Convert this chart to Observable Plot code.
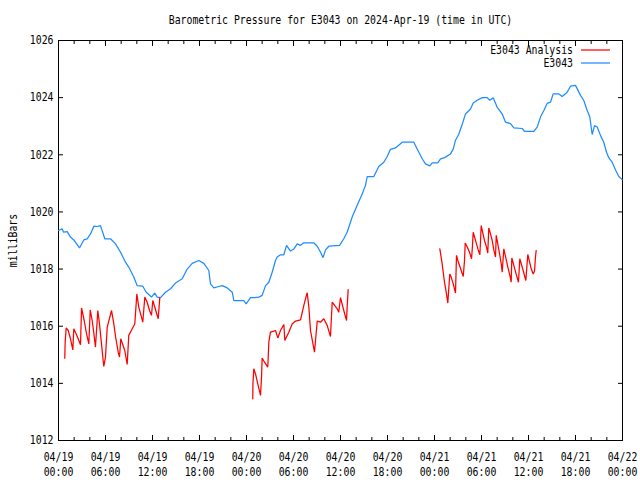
<!DOCTYPE html>
<html>
<head>
<meta charset="utf-8">
<script src="https://cdn.jsdelivr.net/npm/d3@7"></script>
<script src="https://cdn.jsdelivr.net/npm/@observablehq/plot@0.6"></script>
<style>
  html, body { margin: 0; padding: 0; background: #fff; }
  #chart { position: relative; width: 640px; height: 480px; }
</style>
</head>
<body>
<div id="chart"></div>
<script>
const titleText = "Barometric Pressure for E3043 on 2024-Apr-19 (time in UTC)";
const yLabel = "milliBars";
const seriesNames = ["E3043 Analysis", "E3043"];
const seriesColors = ["#ff0000", "#1e8cff"];
const startISO = "2024-04-19T00:00:00Z";
const endISO = "2024-04-22T00:00:00Z";
const yTicks = [1012, 1014, 1016, 1018, 1020, 1022, 1024, 1026];
const majorTickHours = [0, 6, 12, 18, 24, 30, 36, 42, 48, 54, 60, 66, 72];
const minorTickHours = [2, 4, 8, 10, 14, 16, 20, 22, 26, 28, 32, 34, 38, 40, 44, 46, 50, 52, 56, 58, 62, 64, 68, 70];

// E3043 observed (hours since 2024-04-19 00:00 UTC)
const blueHours = [0,0.47,0.64,1.11,1.53,1.95,2.68,3.23,3.66,4.09,
  4.51,4.94,5.36,5.91,6.64,7.28,7.92,8.55,8.97,9.61,
  10.05,10.76,11.2,11.87,12.29,12.6,13.02,13.66,14.3,14.94,
  15.79,16.43,17.07,17.91,18.55,19.19,19.4,19.83,20.46,20.9,
  21.54,22.18,22.38,23.66,23.96,24.51,25.06,25.57,26.0,26.43,
  26.85,27.28,27.7,27.92,28.34,28.77,29.11,29.62,30.04,30.47,
  30.9,31.32,32.59,33.03,33.45,33.77,34.09,34.51,35.88,36.42,
  36.86,37.49,38.13,38.77,39.19,39.41,40.25,40.89,41.53,41.96,
  42.38,43.02,43.88,45.36,46.0,46.43,46.85,47.4,47.71,48.42,
  48.77,49.28,50.04,50.39,50.68,51.1,51.54,51.96,52.6,52.94,
  53.45,54.09,54.73,55.06,55.5,56.0,56.64,57.07,57.7,58.13,
  59.2,59.49,60.68,61.11,61.53,61.96,62.39,62.81,63.15,63.87,
  64.3,64.94,65.36,66.0,66.64,67.06,67.49,67.83,68.13,68.43,
  68.77,69.19,69.61,69.96,70.26,70.68,71.11,71.53,71.96];
const bluePressure = [1019.35,1019.41,1019.29,1019.31,1019.12,1019.02,1018.74,1019.02,1019.06,1019.23,
  1019.5,1019.49,1019.52,1019.06,1019.06,1018.88,1018.59,1018.24,1018.07,1017.72,
  1017.42,1017.40,1017.19,1017.02,1017.16,1017.02,1017.0,1017.19,1017.31,1017.51,
  1017.66,1018.0,1018.2,1018.3,1018.2,1017.95,1017.48,1017.34,1017.39,1017.42,
  1017.34,1017.19,1016.9,1016.9,1016.78,1017.0,1017.0,1017.02,1017.08,1017.42,
  1017.54,1017.89,1018.3,1018.42,1018.5,1018.5,1018.83,1018.63,1018.7,1018.88,
  1018.83,1018.92,1018.92,1018.8,1018.59,1018.4,1018.67,1018.8,1018.83,1019.06,
  1019.3,1019.82,1020.23,1020.63,1020.93,1021.24,1021.24,1021.59,1021.74,1021.94,
  1022.19,1022.24,1022.44,1022.44,1022.09,1021.86,1021.68,1021.61,1021.72,1021.72,
  1021.86,1021.9,1022.03,1022.2,1022.51,1022.72,1023.07,1023.43,1023.6,1023.81,
  1023.91,1024.0,1024.0,1023.91,1024.0,1023.66,1023.43,1023.14,1023.09,1022.94,
  1022.92,1022.82,1022.82,1022.97,1023.32,1023.55,1023.8,1023.84,1024.13,1024.13,
  1024.04,1024.19,1024.4,1024.43,1024.08,1023.9,1023.55,1023.32,1022.71,1023.02,
  1022.97,1022.68,1022.44,1022.09,1021.89,1021.74,1021.47,1021.24,1021.13];

// E3043 Analysis, three segments
const redHours1 = [0.80,0.85,0.98,1.24,1.53,1.83,1.95,2.26,2.51,2.81,2.94,3.28,3.54,3.87,4.05,4.3,4.51,4.72,5.02,5.23,5.49,5.78,6.0,6.22,6.77,7.06,7.28,7.62,7.79,7.95,8.46,8.77,8.97,9.41,9.74,10.0,10.25,10.76,11.02,11.32,11.62,11.87,12.04,12.73,12.93];
const redPressure1 = [1014.88,1015.44,1015.94,1015.85,1015.56,1015.17,1015.91,1015.73,1015.56,1015.35,1016.64,1016.2,1015.79,1015.38,1016.57,1016.2,1015.76,1015.27,1016.55,1016.08,1015.38,1014.59,1014.92,1015.97,1016.55,1016.08,1015.64,1015.09,1014.92,1015.56,1015.15,1014.66,1015.68,1015.91,1016.08,1017.13,1016.67,1016.14,1017.02,1016.84,1016.55,1016.38,1016.9,1016.26,1017.0];
const redHours2 = [24.8,24.82,24.93,25.15,25.44,25.79,25.92,26.0,26.3,26.72,26.85,27.06,27.49,27.7,28.0,28.34,28.77,28.89,29.4,29.83,30.26,30.9,31.32,31.53,31.75,31.96,32.17,32.52,32.68,33.03,33.45,33.87,34.3,34.72,34.94,35.58,35.78,36.0,36.42,36.77,36.86,36.98];
const redPressure2 = [1013.46,1013.98,1014.51,1014.33,1013.98,1013.58,1014.22,1014.89,1014.74,1014.57,1015.44,1015.79,1015.83,1015.85,1015.59,1015.85,1016.06,1015.5,1015.79,1016.08,1016.18,1016.22,1016.73,1016.96,1017.17,1016.67,1015.85,1015.33,1015.09,1016.18,1016.14,1016.26,1016.03,1015.64,1016.84,1016.61,1016.49,1017.0,1016.55,1016.2,1016.73,1017.28];
const redHours3 = [48.68,48.98,49.11,49.28,49.53,49.7,49.95,50.13,50.39,50.68,50.81,50.98,51.41,51.67,51.83,51.92,52.18,52.47,52.73,52.85,52.94,53.36,53.58,53.79,53.87,53.96,54.38,54.64,54.8,54.93,55.15,55.37,55.57,55.79,55.88,56.08,56.34,56.55,56.64,56.85,57.36,57.62,57.79,57.87,58.47,58.72,58.89,59.32,59.66,59.91,60.35,60.6,60.77,60.89,60.98];
const redPressure3 = [1018.71,1018.18,1017.89,1017.54,1017.13,1016.81,1017.83,1017.72,1017.48,1017.16,1018.48,1018.3,1017.95,1017.74,1018.3,1018.91,1018.77,1018.59,1018.36,1018.83,1019.29,1018.88,1018.67,1018.5,1018.94,1019.52,1019.0,1018.77,1018.56,1019.44,1019.23,1019.0,1018.67,1018.42,1019.18,1018.88,1018.48,1018.13,1017.89,1018.71,1018.07,1017.78,1017.54,1018.39,1017.78,1017.54,1018.36,1017.95,1017.6,1018.51,1018.01,1017.83,1017.93,1018.42,1018.65];

const t0 = Date.parse(startISO);
const toDate = h => new Date(t0 + h * 3600e3);

const blue = blueHours.map((h, i) => ({t: toDate(h), p: bluePressure[i]}));
const red = [];
[[redHours1, redPressure1], [redHours2, redPressure2], [redHours3, redPressure3]].forEach(([hs, ps], s) => {
  hs.forEach((h, i) => red.push({t: toDate(h), p: ps[i], seg: s}));
});

const majorTicks = majorTickHours.map(toDate);
const minorTicks = minorTickHours.map(toDate);
const fmt = d3.utcFormat("%m/%d\n%H:%M");
const FONT = "'DejaVu Sans Mono', monospace";
const FS = 12;

const plot = Plot.plot({
  width: 640,
  height: 480,
  marginLeft: 58,
  marginRight: 18,
  marginTop: 40,
  marginBottom: 40,
  style: {fontFamily: FONT, fontSize: FS + "px", background: "#fff", color: "#000", overflow: "visible"},
  x: {type: "utc", domain: [new Date(startISO), new Date(endISO)]},
  y: {domain: [1012, 1026]},
  marks: [
    Plot.frame({stroke: "#000"}),
    Plot.axisX(majorTicks, {anchor: "bottom", tickSize: -5, fill: "none", label: null}),
    Plot.axisX(majorTicks, {anchor: "top", tickSize: -5, fill: "none", label: null}),
    Plot.axisX(minorTicks, {anchor: "bottom", tickSize: -3, fill: "none", label: null}),
    Plot.axisX(minorTicks, {anchor: "top", tickSize: -3, fill: "none", label: null}),
    Plot.axisY(yTicks, {anchor: "left", tickSize: -5, fill: "none", label: null}),
    Plot.axisY(yTicks, {anchor: "right", tickSize: -5, fill: "none", label: null}),
    Plot.axisX(majorTicks, {anchor: "bottom", tickSize: 0, tickPadding: 10, tickFormat: fmt, lineHeight: 1.25, label: null}),
    Plot.axisY(yTicks, {anchor: "left", tickSize: 0, tickPadding: 5, tickFormat: d => String(d), label: yLabel, labelAnchor: "center", labelArrow: "none", labelOffset: 50}),
    Plot.line(blue, {x: "t", y: "p", stroke: seriesColors[1], strokeWidth: 1.25, strokeLinejoin: "miter"}),
    Plot.line(red, {x: "t", y: "p", z: "seg", stroke: seriesColors[0], strokeWidth: 1.25, strokeLinejoin: "miter"}),
    Plot.text([titleText], {frameAnchor: "top", dy: -20.5, lineAnchor: "middle", fill: "#000"})
  ]
});

// legend (top-right, gnuplot style)
const svg = d3.select(plot);
const lg = svg.append("g").attr("font-family", FONT).attr("font-size", 11.5);
seriesNames.forEach((name, i) => {
  const yy = 50 + i * 13;
  lg.append("text").attr("x", 573).attr("y", yy).attr("dy", "0.32em")
    .attr("text-anchor", "end").attr("fill", "#000").text(name);
  lg.append("line").attr("x1", 581).attr("x2", 610).attr("y1", yy).attr("y2", yy)
    .attr("stroke", seriesColors[i]).attr("stroke-width", 1.25);
});

// condense text horizontally to mimic gnuplot's narrow bitmap font
plot.querySelectorAll("text").forEach(t => {
  const tr = t.getAttribute("transform");
  const k = t.parentNode === lg.node() ? 0.855 : 0.82;
  if (tr) {
    t.setAttribute("transform", tr + ` scale(${k},1)`);
  } else {
    const x = +(t.getAttribute("x") || 0), y = +(t.getAttribute("y") || 0);
    t.setAttribute("transform", `translate(${x},${y}) scale(${k},1) translate(${-x},${-y})`);
  }
});

document.getElementById("chart").appendChild(plot);
</script>
</body>
</html>
